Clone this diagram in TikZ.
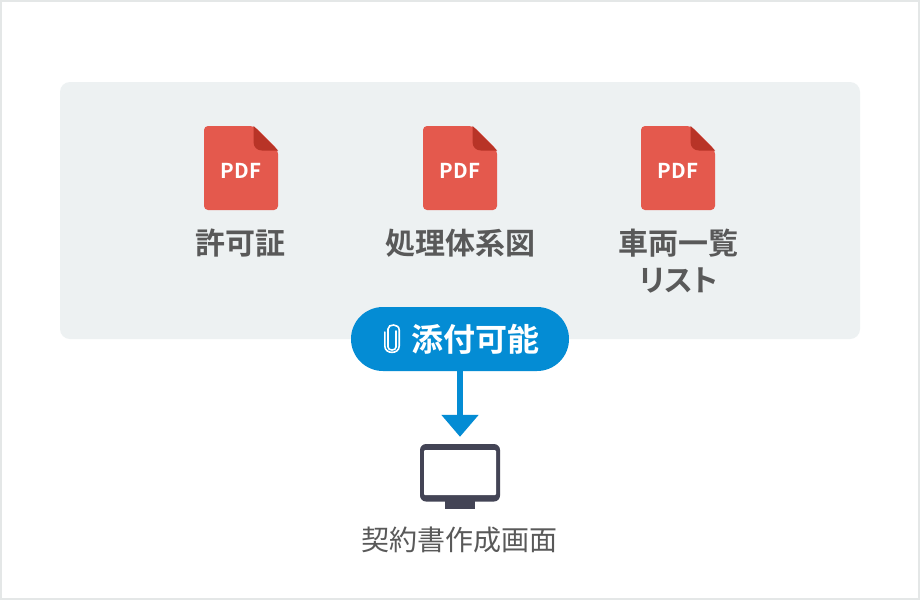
\documentclass[tikz,border=0pt]{standalone}
\usepackage{fontspec}
\usetikzlibrary{arrows.meta}
\setmainfont{Noto Sans CJK JP}[BoldFont={Noto Sans CJK JP Bold}]
\definecolor{framecol}{HTML}{E4E7E7}
\definecolor{panelcol}{HTML}{EDF1F2}
\definecolor{pdfred}{HTML}{E4594D}
\definecolor{pdfdark}{HTML}{B83427}
\definecolor{flowblue}{HTML}{048CD4}
\definecolor{screencol}{HTML}{434455}
\definecolor{labelcol}{HTML}{595959}
\tikzset{
  x=1pt,y=-1pt,
  lab/.style={inner sep=0pt,text=labelcol,font=\fontsize{30}{37}\selectfont\bfseries,align=center},
  sublab/.style={inner sep=0pt,text=labelcol,font=\fontsize{28}{32}\selectfont},
  pill/.style={fill=flowblue,rounded corners=32pt,minimum width=218pt,minimum height=64pt,inner sep=0pt},
  pdftxt/.style={inner sep=0pt,text=white,font=\fontsize{20.5}{24}\selectfont\bfseries},
  flow/.style={draw=flowblue,line width=6pt,-{Triangle[width=36pt,length=22pt]}}
}
\newcommand{\pdficon}[2]{%
  \begin{scope}[shift={(#1,126)}]
    \fill[pdfred,rounded corners=4pt] (0,0) -- (50,0) -- (74,24) -- (74,84) -- (0,84) -- cycle;
    \fill[pdfdark] (49.5,0) -- (74,24.5) -- (58,24.5) .. controls (53,24.5) and (49.5,21) .. (49.5,16) -- cycle;
    \node[pdftxt] (#2) at (37,44.5) {PDF};
  \end{scope}}
\begin{document}
\begin{tikzpicture}
  \useasboundingbox (0,0) rectangle (920,600);
  \draw[framecol,line width=2pt,fill=white] (1,1) rectangle (919,599);
  \fill[panelcol,rounded corners=10pt] (60,82) rectangle (860,339);
  \pdficon{204}{pdfa}
  \pdficon{423}{pdfb}
  \pdficon{641}{pdfc}
  \node[lab] (laba) at (240,243.5) {許可証};
  \node[lab] (labb) at (460.5,243.5) {処理体系図};
  \node[lab] (labc) at (678.5,261.5) {車両一覧\\{\addfontfeature{RawFeature=+palt}リスト}};
  \node[pill] (badge) at (460,339) {};
  \node[inner sep=0pt,text=white,font=\fontsize{32}{34}\selectfont\bfseries] (badgetxt) at (475,339) {添付可能};
  % paperclip
  \draw[white,line width=1.6pt,line cap=round]
    (396,331) -- (396,347) .. controls (396,351) and (388,351) .. (388,347)
    -- (388,332);
  \draw[white,line width=1.6pt,line cap=round]
    (388,332) -- (388,329) .. controls (388,323.5) and (399.2,323.5) .. (399.2,330) -- (399.2,346)
    .. controls (399.2,354.5) and (384.8,354.5) .. (384.8,346) -- (384.8,332);
  % monitor
  \node[fill=screencol,rounded corners=6pt,minimum width=80pt,minimum height=57.5pt,inner sep=0pt] (monitor) at (460,472.75) {};
  \fill[white,rounded corners=1pt] (424,450) rectangle (496,495);
  \fill[screencol] (445,500) rectangle (475,509);
  \draw[flow,shorten >=7pt] (badge.south) -- (monitor.north);
  \node[sublab] (labd) at (459.5,540) {契約書作成画面};
\end{tikzpicture}
\end{document}
